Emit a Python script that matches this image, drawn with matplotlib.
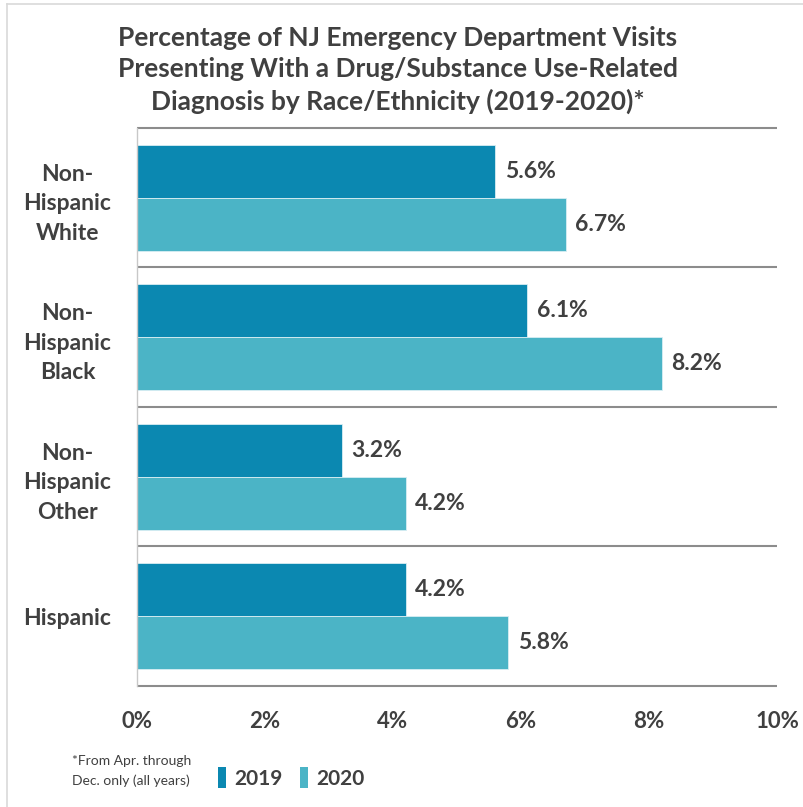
import matplotlib.pyplot as plt
from matplotlib.lines import Line2D
from matplotlib.patches import Patch
import numpy as np

categories = ["Non-\nHispanic\nWhite", "Non-\nHispanic\nBlack", "Non-\nHispanic\nOther", "Hispanic"]
years = ["2019", "2020"]
pct_2019 = [5.6, 6.1, 3.2, 4.2]
pct_2020 = [6.7, 8.2, 4.2, 5.8]
xticks = [0, 2, 4, 6, 8, 10]

TEXT = "#404040"
COLORS = ["#0b88b1", "#4bb4c6"]
FONT = "Lato"

plt.rcParams["font.family"] = [FONT, "DejaVu Sans"]

fig = plt.figure(figsize=(8.04, 8.07), dpi=100)
ax = fig.add_axes([0.1704, 0.150, 0.796, 0.6914])

ys = np.arange(len(categories))
h = 0.38
for vals, off, col in zip([pct_2019, pct_2020], [-h / 2, h / 2], COLORS):
    bars = ax.barh(ys + off, vals, height=h, color=col, edgecolor="#d8eef3", linewidth=0.6)
    for b, v in zip(bars, vals):
        ax.text(v + 0.15, b.get_y() + h / 2, "{:.1f}%".format(v), va="center", ha="left",
                fontsize=16.5, fontweight="bold", color=TEXT)

# separators between groups
for yb in np.arange(-0.5, len(categories), 1.0):
    ax.plot([0, 10], [yb, yb], color="#8c8c8c", lw=1.5, solid_capstyle="butt", clip_on=False)

ax.set_xlim(0, 10)
ax.set_ylim(len(categories) - 0.5, -0.5)
ax.set_yticks(ys)
ax.set_yticklabels(categories, fontsize=16.5, fontweight="bold", color=TEXT,
                   ha="center", linespacing=1.5)
ax.tick_params(axis="y", length=0, pad=50)
ax.set_xticks(xticks)
ax.set_xticklabels(["{}%".format(t) for t in xticks], fontsize=16, fontweight="bold", color=TEXT)
ax.tick_params(axis="x", length=0, pad=18)

for s in ["top", "right", "bottom"]:
    ax.spines[s].set_visible(False)
ax.spines["left"].set_color("#c8c8c8")
ax.spines["left"].set_linewidth(1.0)

fig.text(0.495, 0.913, "Percentage of NJ Emergency Department Visits\n"
         "Presenting With a Drug/Substance Use-Related\n"
         "Diagnosis by Race/Ethnicity (2019-2020)*",
         ha="center", va="center", fontsize=19, fontweight="bold", color=TEXT,
         linespacing=1.35)

fig.text(0.089, 0.045, "*From Apr. through\nDec. only (all years)", ha="left", va="center",
         fontsize=10, color=TEXT, linespacing=1.7)

handles = [Patch(facecolor=c, edgecolor="none") for c in COLORS]
fig.legend(handles, years, loc="center left", bbox_to_anchor=(0.258, 0.036), ncol=2,
           frameon=False, borderpad=0, prop={"family": FONT, "weight": "bold", "size": 15},
           labelcolor=TEXT, handlelength=0.4, handleheight=1.2, handletextpad=0.4,
           columnspacing=0.8)

# outer chart frame edges
fig.add_artist(Line2D([0.009, 0.009], [0.0, 0.995], color="#d9d9d9", lw=1.2))
fig.add_artist(Line2D([0.009, 1.0], [0.995, 0.995], color="#d9d9d9", lw=1.2))

fig.savefig("out.png", dpi=100)
